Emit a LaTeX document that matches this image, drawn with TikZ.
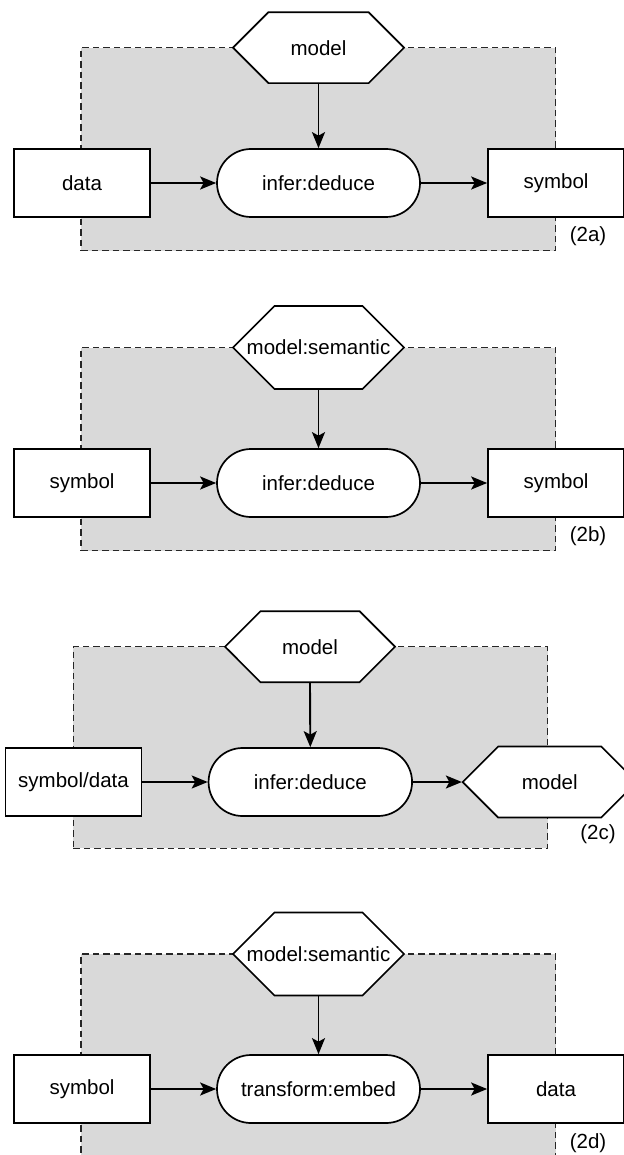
\documentclass[tikz,border=0pt]{standalone}
\usepackage{fontspec}
\setmainfont{Liberation Sans}
\usetikzlibrary{arrows.meta,shapes.misc}
\definecolor{panelgray}{HTML}{D9D9D9}
\definecolor{dashgray}{HTML}{262626}
\begin{document}
\begin{tikzpicture}[x=1pt,y=-1pt,
  font=\fontsize{20.5}{24}\selectfont,
  panel/.style={draw=dashgray, fill=panelgray, line width=1.5pt, dash pattern=on 6.5pt off 4pt, inner sep=0pt},
  boxnode/.style={draw=black, fill=white, line width=1.7pt, minimum width=136pt, minimum height=68pt, inner sep=0pt},
  procnode/.style={draw=black, fill=white, line width=1.7pt, rounded corners=34pt, minimum width=203pt, minimum height=68pt, inner sep=0pt},
  hexnode/.style={chamfered rectangle, chamfered rectangle xsep=35pt, chamfered rectangle ysep=34pt, draw=black, fill=white, line width=1.7pt, minimum width=171pt, minimum height=68pt, inner sep=0pt},
  arr/.style={-{Stealth[length=16pt,width=13pt,inset=3.5pt]}, line width=1.9pt},
  tag/.style={inner sep=0pt}]
\useasboundingbox (0,0) rectangle (623,1155);

% ---------- panel (2a)
\node[panel, minimum width=474.5pt, minimum height=203pt] (pa) at (318.25,149.2) {};
\node[hexnode] (ha) at (318.5,47.7) {model};
\node[boxnode] (ia) at (82,183) {data};
\node[procnode] (sa) at (318.5,183) {infer:deduce};
\node[boxnode] (oa) at (556,183) {symbol};
\node[tag] (ta) at (588,236) {(2a)};
\draw[arr] (ha.south) -- (sa.north);
\draw[arr] (ia.east) -- (sa.west);
\draw[arr] (sa.east) -- (oa.west);

% ---------- panel (2b)
\node[panel, minimum width=474.5pt, minimum height=203pt] (pb) at (318.25,449.2) {};
\node[hexnode] (hb) at (318.5,347.5) {model:semantic};
\node[boxnode] (ib) at (82,483) {symbol};
\node[procnode] (sb) at (318.5,483) {infer:deduce};
\node[boxnode] (ob) at (556,483) {symbol};
\node[tag] (tb) at (588,536) {(2b)};
\draw[arr] (hb.south) -- (sb.north);
\draw[arr] (ib.east) -- (sb.west);
\draw[arr] (sb.east) -- (ob.west);

% ---------- panel (2c)
\node[panel, minimum width=474.2pt, minimum height=201.6pt] (pc) at (310.4,747.5) {};
\node[hexnode, minimum width=170pt] (hc) at (310,646.7) {model};
\node[boxnode] (ic) at (73.5,782) {symbol/data};
\node[procnode, minimum width=203.5pt] (sc) at (310.3,782) {infer:deduce};
\node[hexnode, minimum width=174pt, chamfered rectangle xsep=33.5pt] (oc) at (549.7,782) {model};
\node[tag] (tc) at (598,834) {(2c)};
\draw[arr] (hc.south) -- (sc.north);
\draw[arr] (ic.east) -- (sc.west);
\draw[arr] (sc.east) -- (oc.west);

% ---------- panel (2d)
\node[panel, minimum width=474.5pt, minimum height=203pt] (pd) at (318.25,1055.5) {};
\node[hexnode] (hd) at (318.5,954) {model:semantic};
\node[boxnode] (id) at (82,1089) {symbol};
\node[procnode] (sd) at (318.5,1089) {transform:embed};
\node[boxnode] (od) at (556,1089) {data};
\node[tag] (td) at (588,1143) {(2d)};
\draw[arr] (hd.south) -- (sd.north);
\draw[arr] (id.east) -- (sd.west);
\draw[arr] (sd.east) -- (od.west);
\end{tikzpicture}
\end{document}
